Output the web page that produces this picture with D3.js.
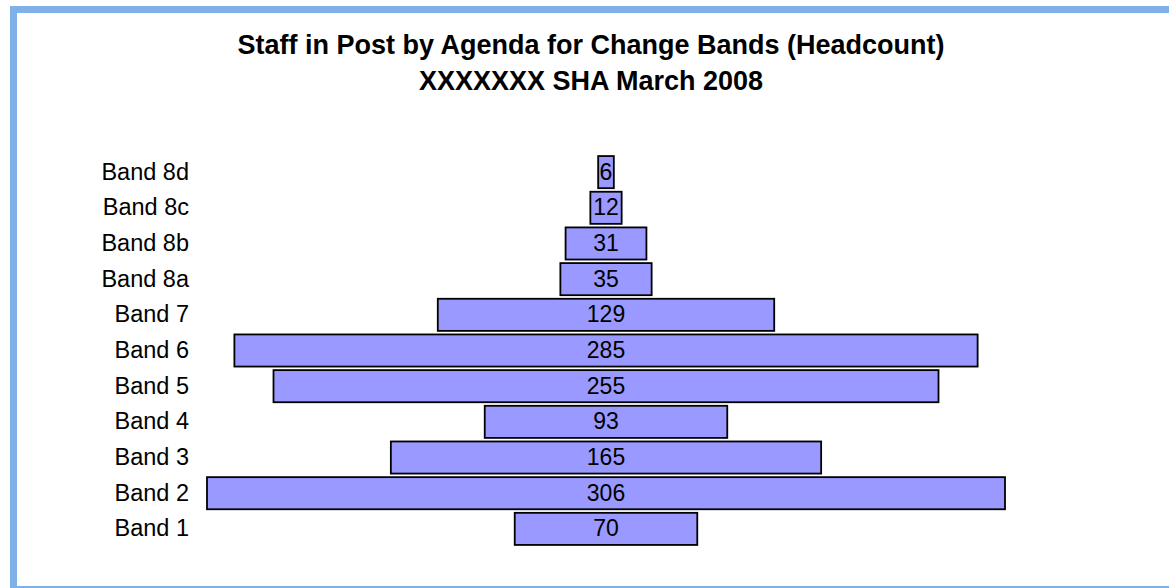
<!DOCTYPE html>
<html>
<head>
<meta charset="utf-8">
<script src="https://cdnjs.cloudflare.com/ajax/libs/d3/7.8.5/d3.min.js"></script>
<style>
  body { margin: 0; background: #fff; }
  svg { display: block; font-family: "Liberation Sans", Arial, sans-serif; }
</style>
</head>
<body>
<svg id="chart" width="1169" height="588"></svg>
<script>
const bands = ["Band 8d", "Band 8c", "Band 8b", "Band 8a", "Band 7", "Band 6", "Band 5", "Band 4", "Band 3", "Band 2", "Band 1"];
const headcount = [6, 12, 31, 35, 129, 285, 255, 93, 165, 306, 70];
const titleLines = ["Staff in Post by Agenda for Change Bands (Headcount)", "XXXXXXX SHA March 2008"];

const svg = d3.select("#chart");
const centre = 606;

// frame
svg.append("rect")
    .attr("x", 13.5)
    .attr("y", 9.5)
    .attr("width", 1160)
    .attr("height", 580)
    .attr("fill", "#fff")
    .attr("stroke", "#80B0E8")
    .attr("stroke-width", 7);

svg.append("g")
    .selectAll("text")
    .data(titleLines)
    .join("text")
    .attr("x", 591)
    .attr("y", (d, i) => 54 + i * 36)
    .attr("text-anchor", "middle")
    .attr("font-size", 27)
    .attr("font-weight", "bold")
    .attr("fill", "#000")
    .text(d => d);

const y = d3.scaleBand()
    .domain(bands)
    .range([152.5, 548.5])
    .padding(0.1);

const w = d3.scaleLinear()
    .domain([0, 306])
    .range([0, 798]);

const rows = bands.map((b, i) => ({ band: b, value: headcount[i] }));

svg.append("g")
    .selectAll("rect")
    .data(rows)
    .join("rect")
    .attr("x", d => centre - w(d.value) / 2)
    .attr("y", d => y(d.band))
    .attr("width", d => w(d.value))
    .attr("height", y.bandwidth())
    .attr("fill", "#9999FF")
    .attr("stroke", "#000")
    .attr("stroke-width", 1.8);

svg.append("g")
    .selectAll("text")
    .data(rows)
    .join("text")
    .attr("x", centre)
    .attr("y", d => y(d.band) + y.bandwidth() / 2 + 7.5)
    .attr("text-anchor", "middle")
    .attr("font-size", 23)
    .attr("fill", "#000")
    .text(d => d.value);

// category labels
const axis = d3.axisLeft(y).tickSize(0).tickPadding(0);
const gAxis = svg.append("g")
    .attr("transform", "translate(189,0)")
    .call(axis);
gAxis.select(".domain").remove();
gAxis.selectAll("text")
    .attr("font-size", 23.5)
    .attr("font-family", "Liberation Sans, Arial, sans-serif")
    .attr("fill", "#000")
    .attr("dy", null)
    .attr("y", 7.5);
</script>
</body>
</html>
